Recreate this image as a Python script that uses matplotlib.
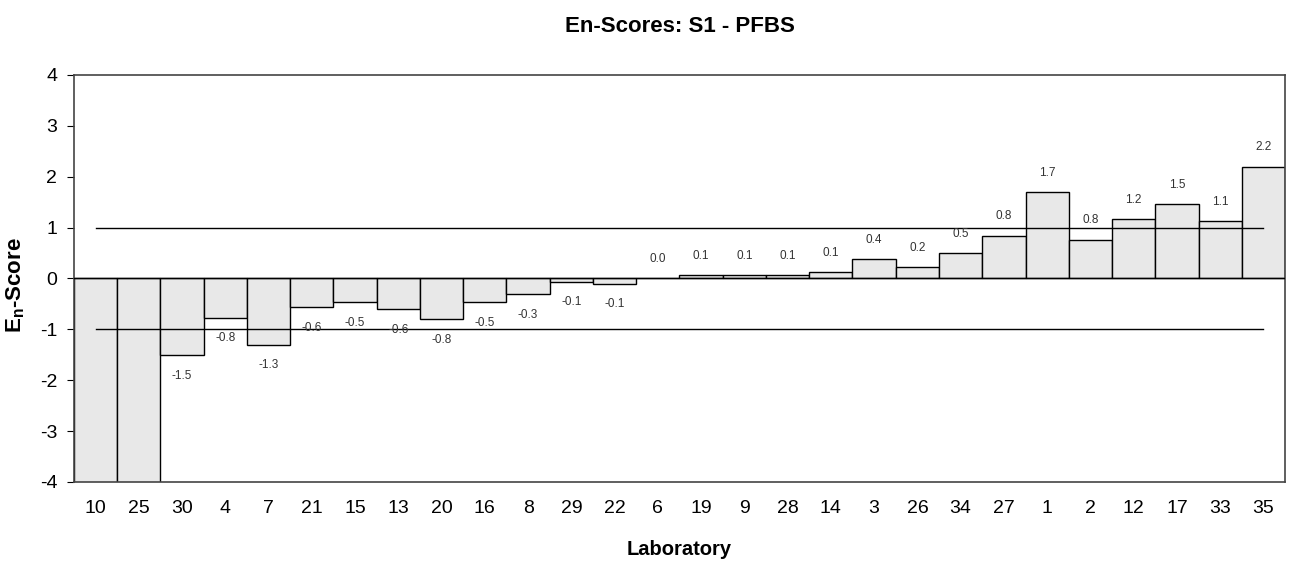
import matplotlib
matplotlib.use("Agg")
import matplotlib.pyplot as plt

plt.rcParams['font.family'] = ['Liberation Sans', 'DejaVu Sans']
plt.rcParams['axes.unicode_minus'] = False

labs = ["10", "25", "30", "4", "7", "21", "15", "13", "20", "16", "8", "29", "22", "6",
        "19", "9", "28", "14", "3", "26", "34", "27", "1", "2", "12", "17", "33", "35"]
scores = [-6.0, -6.0, -1.50, -0.77, -1.30, -0.57, -0.47, -0.60, -0.80, -0.47, -0.30, -0.06, -0.10, 0.0,
          0.06, 0.06, 0.06, 0.12, 0.38, 0.22, 0.50, 0.84, 1.70, 0.76, 1.16, 1.46, 1.13, 2.20]
limit_lo, limit_hi = -1, 1

fig = plt.figure(figsize=(12.95, 5.63), dpi=100)
ax = fig.add_axes([0.0571, 0.1439, 0.9352, 0.7229])

x = list(range(len(labs)))
ax.bar(x, scores, width=1.0, color="#e8e8e8", edgecolor="black", linewidth=1.0, zorder=2)
ax.axhline(0, color="black", linewidth=1.0, zorder=3)
ax.plot([x[0], x[-1]], [limit_hi, limit_hi], color="black", linewidth=1.0, zorder=3)
ax.plot([x[0], x[-1]], [limit_lo, limit_lo], color="black", linewidth=1.0, zorder=3)

for xi, v in zip(x, scores):
    if v < -4 or v > 4:
        continue
    if v >= 0:
        ax.annotate(f"{v:.1f}", (xi, v), xytext=(0, 14), textcoords="offset points",
                    ha="center", va="center", fontsize=8.5, color="#333333", zorder=4)
    else:
        ax.annotate(f"{v:.1f}", (xi, v), xytext=(0, -15), textcoords="offset points",
                    ha="center", va="center", fontsize=8.5, color="#333333", zorder=4)

ax.set_xlim(-0.5, len(labs) - 0.5)
ax.set_ylim(-4, 4)
ax.set_yticks(range(-4, 5))
ax.set_xticks(x)
ax.set_xticklabels(labs)
ax.tick_params(axis="x", length=0, pad=13, labelsize=14)
ax.tick_params(axis="y", length=5, labelsize=14, pad=7)
for s in ax.spines.values():
    s.set_color("#444444")
    s.set_linewidth(1.2)

fig.text(0.5247, 1 - 26 / 563, "En-Scores: S1 - PFBS", fontsize=16, fontweight="bold",
         ha="center", va="center")
ax.set_xlabel("Laboratory", fontsize=14.5, fontweight="bold")
ax.xaxis.set_label_coords(0.5, (482 - 550) / 407)
ax.xaxis.label.set_va("center")
ax.set_ylabel("E$_\\mathregular{n}$-Score", fontsize=16, fontweight="bold")
ax.yaxis.set_label_coords((16 - 74) / 1211, (482 - 285) / 407)
ax.yaxis.label.set_va("center")

fig.savefig("out.png", dpi=100)
